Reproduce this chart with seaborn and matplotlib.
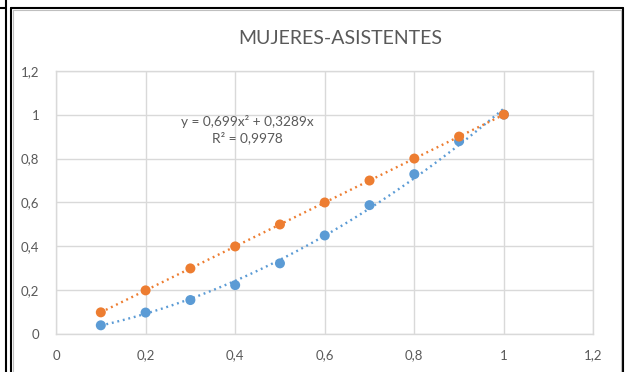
import numpy as np
import pandas as pd
import matplotlib
matplotlib.use("Agg")
import matplotlib.pyplot as plt
import seaborn as sns
from matplotlib.lines import Line2D

# Data
x_vals = [0.1, 0.2, 0.3, 0.4, 0.5, 0.6, 0.7, 0.8, 0.9, 1.0]
mujeres = [0.041, 0.099, 0.156, 0.224, 0.323, 0.45, 0.588, 0.729, 0.879, 1.0]
asistentes = [0.1, 0.2, 0.3, 0.4, 0.5, 0.6, 0.7, 0.8, 0.9, 1.0]

# Quadratic trend (through origin) for the blue series
coef_a = 0.699
coef_b = 0.3289
r2_text = "0,9978"

title = "MUJERES-ASISTENTES"
tick_vals = [0, 0.2, 0.4, 0.6, 0.8, 1, 1.2]
tick_labels = ["0", "0,2", "0,4", "0,6", "0,8", "1", "1,2"]

blue = "#5B9BD5"
orange = "#ED7D31"
text_gray = "#595959"
grid_gray = "#D9D9D9"

sns.set_theme(style="white")
plt.rcParams["font.family"] = ["Lato", "DejaVu Sans"]

fig = plt.figure(figsize=(6.26, 3.72), dpi=100)
ax = fig.add_axes([0.0895, 0.1013, 0.8585, 0.7087])

df = pd.DataFrame({"x": x_vals, "mujeres": mujeres, "asistentes": asistentes})

# Trend lines
xt = np.linspace(min(x_vals), max(x_vals), 200)
trend_blue = pd.DataFrame({"x": xt, "y": coef_a * xt**2 + coef_b * xt})
lin = np.polyfit(x_vals, asistentes, 1)
trend_orange = pd.DataFrame({"x": xt, "y": np.polyval(lin, xt)})

sns.lineplot(data=trend_blue, x="x", y="y", ax=ax, color=blue, lw=1.7,
             linestyle=(0, (0.8, 1.6)), zorder=3)
sns.lineplot(data=trend_orange, x="x", y="y", ax=ax, color=orange, lw=1.7,
             linestyle=(0, (0.8, 1.6)), zorder=3)

sns.scatterplot(data=df, x="x", y="mujeres", ax=ax, color=blue, s=52,
                edgecolor="none", zorder=4)
sns.scatterplot(data=df, x="x", y="asistentes", ax=ax, color=orange, s=52,
                edgecolor="none", zorder=5)

ax.set_xlim(0, 1.2)
ax.set_ylim(0, 1.2)
ax.set_xticks(tick_vals)
ax.set_xticklabels(tick_labels)
ax.set_yticks(tick_vals)
ax.set_yticklabels(tick_labels)
ax.set_xlabel("")
ax.set_ylabel("")
ax.grid(True, color=grid_gray, lw=1)
ax.set_axisbelow(True)
for s in ax.spines.values():
    s.set_color(grid_gray)
    s.set_linewidth(1)
ax.tick_params(axis="both", length=0, labelsize=9.5, colors=text_gray)
ax.tick_params(axis="x", pad=11)
ax.tick_params(axis="y", pad=12)

# Equation label
ax.text(0.428, 0.932, f"y = {coef_a:.3f}x² + {coef_b:.4f}x".replace(".", ",")
        + f"\nR² = {r2_text}",
        ha="center", va="center", fontsize=9.8, color=text_gray,
        linespacing=1.3)

fig.text(0.543, 0.897, title, ha="center", va="center", fontsize=14,
         color=text_gray)

# Frame around the chart cell
W, H = 626, 372
def fline(x0, y0, x1, y1, color="black", lw=1.5):
    fig.add_artist(Line2D([x0 / W, x1 / W], [1 - y0 / H, 1 - y1 / H],
                          color=color, lw=lw, transform=fig.transFigure))

fline(5.5, 0, 5.5, H)
fline(0, 7.5, 5.5, 7.5)
fline(10.5, 7.5, 10.5, H)
fline(10.5, 7.5, 623, 7.5)
fline(623, 7.5, 623, H)
fline(12.5, 9.5, 12.5, H, color="#BFBFBF", lw=0.8)
fline(12.5, 9.5, 621, 9.5, color="#BFBFBF", lw=0.8)
fline(621, 9.5, 621, H, color="#BFBFBF", lw=0.8)

fig.savefig("out.png", dpi=100)
